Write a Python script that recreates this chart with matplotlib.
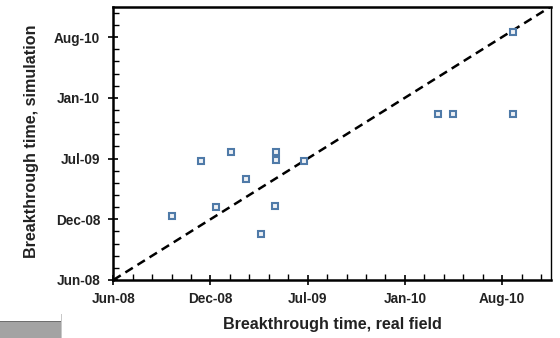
import matplotlib
matplotlib.use("Agg")
import matplotlib.pyplot as plt
from matplotlib.patches import Rectangle
import datetime as dt

# Data: days after 1-Jun-2008 (real field vs simulation)
base_date = dt.date(2008, 6, 1)
real_days = [120, 180, 243, 212, 273, 334, 334, 332, 303, 392, 668, 698, 822, 822]
sim_days = [211, 392, 422, 242, 332, 422, 395, 244, 151, 391, 546, 546, 546, 818]
tick_days = [0, 200, 400, 600, 800]
tick_labels = [(base_date + dt.timedelta(days=d)).strftime("%b-%y") for d in tick_days]
axis_max = 900

plt.rcParams['font.family'] = ['Liberation Sans', 'DejaVu Sans']

fig = plt.figure(figsize=(5.6, 3.38), dpi=100)
ax = fig.add_axes([0.2023, 0.1716, 0.7811, 0.8086])

ax.plot([0, axis_max], [0, axis_max], ls=(0, (3.5, 2.2)), color='black', lw=1.8, zorder=2)
ax.plot(real_days, sim_days, ls='none', marker='s', ms=4.5, mfc='#eef1f5',
        mec='#4f7aa8', mew=1.5, zorder=3)

ax.set_xlim(0, axis_max)
ax.set_ylim(0, axis_max)
ax.set_xticks(tick_days)
ax.set_xticklabels(tick_labels, fontweight='bold', fontsize=9.8, color='#222222')
ax.set_yticks(tick_days)
ax.set_yticklabels(tick_labels, fontweight='bold', fontsize=9.8, color='#222222')
ax.set_xticks(range(0, axis_max + 1, 40), minor=True)
ax.set_yticks(range(0, axis_max + 1, 40), minor=True)
ax.tick_params(which='major', direction='inout', length=7, width=1.2)
ax.tick_params(axis='x', which='major', pad=5)
ax.tick_params(axis='y', which='major', pad=6)
ax.tick_params(which='minor', direction='in', length=4, width=1.0)

for side in ['left', 'bottom', 'top']:
    ax.spines[side].set_linewidth(1.8)
ax.spines['right'].set_linewidth(1.0)

ax.set_xlabel('Breakthrough time, real field', fontweight='bold', fontsize=11.6, color='#222222')
ax.set_ylabel('Breakthrough time, simulation', fontweight='bold', fontsize=11.6, color='#222222')
ax.xaxis.set_label_coords(0.5, -0.135)
ax.yaxis.set_label_coords(-0.169, 0.509)

# gray artifact at bottom-left
fig.patches.append(Rectangle((0, 0), 62 / 560, 16 / 338, transform=fig.transFigure,
                             facecolor='#a3a3a3', edgecolor='none', zorder=0))
fig.patches.append(Rectangle((0, 16 / 338), 62 / 560, 1.5 / 338, transform=fig.transFigure,
                             facecolor='#6e6e6e', edgecolor='none', zorder=1))
fig.patches.append(Rectangle((61 / 560, 0), 1.2 / 560, 24 / 338, transform=fig.transFigure,
                             facecolor='#c8c8c8', edgecolor='none', zorder=1))

fig.savefig('out.png', dpi=100)
